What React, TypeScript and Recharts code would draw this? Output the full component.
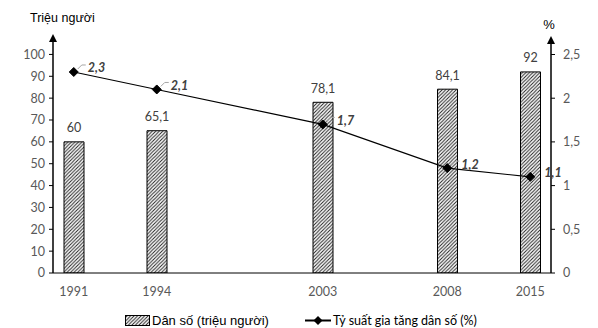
import React from "react";
import { ComposedChart, Bar, Line, XAxis, YAxis, Legend, LabelList } from "recharts";

const categories = ["1991", "", "1994", "", "", "", "2003", "", "", "2008", "", "2015"];
const population = [60, null, 65.1, null, null, null, 78.1, null, null, 84.1, null, 92];
const growthRate = [2.3, null, 2.1, null, null, null, 1.7, null, null, 1.2, null, 1.1];
const leftTicks = [0, 10, 20, 30, 40, 50, 60, 70, 80, 90, 100];
const rightTicks = [0, 0.5, 1, 1.5, 2, 2.5];

const data = categories.map((c, i) => ({ year: c, pop: population[i], rate: growthRate[i] }));

const W = 598;
const H = 328;
const PLOT_LEFT = 53;
const PLOT_RIGHT = 551;
const PLOT_TOP = 40;
const TICK_FONT = "Lato, 'Open Sans', sans-serif";

const fmt = (v: number) => String(v).replace(".", ",");

const Diamond = (props: any) => {
  const { cx, cy } = props;
  if (cx == null || cy == null || props.value == null) return null;
  const r = 4.5;
  return <path d={`M${cx},${cy - r} L${cx + r},${cy} L${cx},${cy + r} L${cx - r},${cy} Z`} fill="#000" stroke="#000" />;
};

const RateLabel = (props: any) => {
  const { x, y, value, index } = props;
  if (value == null || x == null) return null;
  const showLeader = index !== categories.length - 1;
  return (
    <g>
      {showLeader && (
        <path d={`M${x + 4},${y - 3} L${x + 8},${y - 7} L${x + 12},${y - 7}`} stroke="#a6a6a6" fill="none" strokeWidth={1} />
      )}
      <text x={x + 14} y={y - 4} dominantBaseline="central" fontFamily={TICK_FONT} fontSize={12.5} fontStyle="italic" fontWeight="bold" fill="#404040">
        {fmt(value)}
      </text>
    </g>
  );
};

const PopLabel = (props: any) => {
  const { x, y, width, value } = props;
  if (value == null) return null;
  return (
    <text x={x + width / 2} y={y - 14} textAnchor="middle" dominantBaseline="central" fontFamily={TICK_FONT} fontSize={12.5} fill="#404040">
      {fmt(value)}
    </text>
  );
};

const LegendContent = () => (
  <div style={{ width: W, height: 25, position: "relative" }}>
    <svg width={W} height={25} style={{ position: "absolute", left: 0, top: 0 }}>
      <rect x={125.5} y={12.5} width={24} height={10} fill="url(#hatch)" stroke="#000" strokeWidth={1} />
      <text x={152} y={17.5} dominantBaseline="central" fontFamily="'Liberation Sans', Arial, sans-serif" fontSize={13} fill="#000">
        Dân số (triệu người)
      </text>
      <line x1={305} x2={331} y1={17.5} y2={17.5} stroke="#000" strokeWidth={2} />
      <path d="M318,13 L322.5,17.5 L318,22 L313.5,17.5 Z" fill="#000" />
      <text x={333} y={17.5} dominantBaseline="central" fontFamily={TICK_FONT} fontSize={12.5} fill="#000">
        Tỷ suất gia tăng dân số (%)
      </text>
    </svg>
  </div>
);

export default function App() {
  return (
    <div style={{ position: "absolute", left: 0, top: 0, width: W, height: H, background: "#fff" }}>
      <ComposedChart width={W} height={H} data={data} margin={{ top: PLOT_TOP, right: 0, bottom: 0, left: 0 }}>
        <defs>
          <pattern id="hatch" patternUnits="userSpaceOnUse" width={3.5} height={3.5}>
            <rect width={3.5} height={3.5} fill="#fff" />
            <path d="M-1,1 L1,-1 M0,3.5 L3.5,0 M2.5,4.5 L4.5,2.5" stroke="#222" strokeWidth={1} />
          </pattern>
        </defs>
        <XAxis
          dataKey="year"
          type="category"
          interval={0}
          tickLine={false}
          axisLine={{ stroke: "#000", strokeWidth: 1 }}
          height={30}
          tick={{ fill: "#595959", fontSize: 12.5, fontFamily: TICK_FONT }}
          tickMargin={8}
          padding={{ left: 0, right: 0 }}
        />
        <YAxis
          yAxisId="left"
          orientation="left"
          width={PLOT_LEFT}
          domain={[0, 106.6]}
          ticks={leftTicks}
          interval={0}
          tickSize={4}
          tickMargin={4}
          axisLine={{ stroke: "#000", strokeWidth: 1.5 }}
          tickLine={{ stroke: "#000" }}
          tick={{ fill: "#595959", fontSize: 12.5, fontFamily: TICK_FONT }}
          allowDataOverflow
        />
        <YAxis
          yAxisId="right"
          orientation="right"
          width={W - PLOT_RIGHT}
          domain={[0, 2.666]}
          ticks={rightTicks}
          interval={0}
          tickSize={4}
          tickMargin={8}
          tickFormatter={fmt}
          axisLine={{ stroke: "#000", strokeWidth: 1.5 }}
          tickLine={{ stroke: "#000" }}
          tick={{ fill: "#595959", fontSize: 12.5, fontFamily: TICK_FONT, textAnchor: "start" }}
          allowDataOverflow
        />
        <Legend verticalAlign="bottom" height={25} content={<LegendContent />} />
        <Bar yAxisId="left" dataKey="pop" barSize={20} fill="url(#hatch)" stroke="#000" strokeWidth={1} isAnimationActive={false}>
          <LabelList dataKey="pop" content={<PopLabel />} />
        </Bar>
        <Line
          yAxisId="right"
          dataKey="rate"
          type="linear"
          stroke="#000"
          strokeWidth={1.2}
          connectNulls
          dot={<Diamond />}
          activeDot={false}
          isAnimationActive={false}
        >
          <LabelList dataKey="rate" content={<RateLabel />} />
        </Line>
        <g>
          <path d={`M${PLOT_LEFT},34 L${PLOT_LEFT + 4},42 L${PLOT_LEFT - 4},42 Z`} fill="#000" />
          <path d={`M${PLOT_RIGHT},36 L${PLOT_RIGHT + 4},44 L${PLOT_RIGHT - 4},44 Z`} fill="#000" />
          <text x={30} y={18} dominantBaseline="central" fontFamily="'Liberation Sans', Arial, sans-serif" fontSize={12.5} fill="#000">
            Triệu người
          </text>
          <text x={549} y={24} textAnchor="middle" dominantBaseline="central" fontFamily="'Liberation Sans', Arial, sans-serif" fontSize={13} fill="#000">
            %
          </text>
        </g>
      </ComposedChart>
    </div>
  );
}
